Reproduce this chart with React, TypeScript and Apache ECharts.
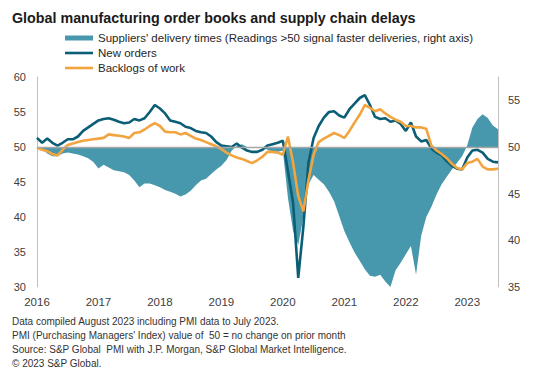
import React, { useEffect, useRef } from 'react';
import * as echarts from 'echarts';

const years = ['2016', '2017', '2018', '2019', '2020', '2021', '2022', '2023'];
const monthCount = 91; // Jan 2016 .. Jul 2023
const categories: string[] = [];
years.forEach((y) => {
  for (let m = 1; m <= 12; m++) {
    if (categories.length < monthCount) categories.push(`${y}-${String(m).padStart(2, '0')}`);
  }
});

const seriesNames = [
  "Suppliers' delivery times (Readings >50 signal faster deliveries, right axis)",
  'New orders',
  'Backlogs of work',
];

const newOrders = [
  51.3, 50.6, 51.2, 50.6, 50.2, 50.6, 51.1, 51.1, 51.5, 52.3, 52.8, 53.3,
  53.8, 54.0, 54.1, 53.9, 53.6, 53.4, 53.5, 54.0, 53.8, 54.1, 55.0, 56.0,
  55.5, 54.8, 53.8, 53.6, 53.4, 52.9, 52.7, 52.3, 52.1, 52.0, 51.5, 50.7,
  50.2, 50.1, 50.0, 50.5, 49.9, 49.5, 49.3, 49.3, 49.6, 50.2, 50.4, 50.6,
  50.9, 46.5, 42.0, 31.3, 38.6, 47.8, 51.3, 53.0, 54.2, 55.0, 55.1, 54.5,
  54.2, 55.4, 56.2, 57.0, 57.4, 56.0, 54.3, 54.0, 54.1, 53.6, 53.8, 53.3,
  52.3, 53.5, 51.5, 50.8, 51.0, 49.8, 49.2, 48.8, 48.0, 47.3, 46.9, 46.8,
  48.5, 49.5, 49.6, 49.2, 48.3, 47.9, 47.8,
];

const backlogs = [
  49.9, 49.6, 49.4, 49.0, 48.8, 49.6, 50.3, 50.5, 50.7, 50.9, 51.0, 51.1,
  51.2, 51.3, 51.8, 51.7, 51.6, 51.5, 51.3, 52.0, 52.1, 52.5, 53.0, 53.4,
  53.0, 52.2, 52.1, 52.1, 51.8, 52.0, 51.6, 51.2, 51.0, 50.7, 50.4, 50.1,
  49.7, 49.2, 48.8, 48.5, 48.3, 48.0, 47.7, 48.1, 48.6, 49.3, 49.3, 49.2,
  48.9, 51.5, 47.7, 43.0, 40.8, 45.3, 48.9, 50.7, 51.2, 51.6, 52.0, 51.7,
  51.3, 52.3, 53.5, 54.6, 56.0, 55.6, 55.1, 55.4, 54.8, 54.3, 53.9, 53.6,
  53.0, 53.0, 52.8, 52.8, 52.6, 50.2, 49.5, 49.0, 48.4, 47.6, 47.0, 46.8,
  47.7, 47.9, 48.3, 47.2, 46.8, 46.8, 46.9,
];

const deliveryTimes = [
  50.0, 49.8, 49.3, 49.0, 49.0, 49.3, 49.4, 49.3, 49.2, 49.0, 48.8, 48.4,
  47.7, 48.1, 47.8, 47.5, 47.4, 47.3, 47.0, 46.4, 45.7, 46.1, 46.1, 45.9,
  45.7, 45.4, 45.2, 45.0, 44.7, 44.9, 45.3, 45.9, 46.4, 46.6, 47.1, 47.6,
  48.0, 48.6, 49.6, 50.1, 50.3, 50.0, 49.9, 50.0, 49.9, 49.7, 49.5, 49.5,
  49.6, 44.5, 41.0, 39.5, 42.5, 46.0, 47.0, 46.5, 46.0, 45.2, 44.2, 42.6,
  41.0, 39.8, 38.7, 37.8, 36.9, 36.2, 36.1, 36.3, 35.6, 35.0, 36.8, 37.6,
  38.5, 39.4, 36.3, 40.5, 42.5, 43.6, 44.9, 46.0, 46.8, 47.6, 48.3, 49.0,
  50.2, 52.1, 53.0, 53.5, 53.1, 52.3, 51.9,
];

const titleText = 'Global manufacturing order books and supply chain delays';
const footnotes = [
  'Data compiled August 2023 including PMI data to July 2023.',
  'PMI (Purchasing Managers\' Index) value of  50 = no change on prior month',
  'Source: S&P Global  PMI with J.P. Morgan, S&P Global Market Intelligence.',
  '\u00A9 2023 S&P Global.',
];

const FONT = '"Liberation Sans", Arial, Helvetica, sans-serif';
const AREA = '#4898AD';
const NAVY = '#0B5E75';
const ORANGE = '#F2A43E';
const AXIS_GRAY = '#BFBFBF';
const LABEL = '#404040';
const LINE_ICON = 'path://M0,0L28,0L28,2.6L0,2.6Z';

export default function App() {
  const ref = useRef<HTMLDivElement>(null);
  useEffect(() => {
    if (!ref.current) return;
    const chart = echarts.init(ref.current, undefined, { renderer: 'svg' });
    chart.setOption({
      animation: false,
      backgroundColor: '#ffffff',
      title: {
        text: titleText,
        left: 12,
        top: 11,
        padding: 0,
        textStyle: { fontFamily: FONT, fontSize: 14.3, fontWeight: 'bold', color: '#1a1a1a' },
      },
      legend: {
        orient: 'vertical',
        left: 65,
        top: 32,
        padding: 0,
        itemWidth: 28,
        itemHeight: 5,
        itemGap: 3,
        symbolKeepAspect: true,
        textStyle: { fontFamily: FONT, fontSize: 11.5, color: '#262626' },
        data: [
          { name: seriesNames[0], icon: 'rect' },
          { name: seriesNames[1], icon: LINE_ICON },
          { name: seriesNames[2], icon: LINE_ICON },
        ],
      },
      grid: { left: 37, right: 40, top: 77, bottom: 94 },
      xAxis: {
        type: 'category',
        data: categories,
        boundaryGap: false,
        axisLine: { show: false },
        axisTick: { show: false },
        splitLine: { show: false },
        axisLabel: {
          interval: (idx: number) => idx % 12 === 0,
          formatter: (v: string) => v.slice(0, 4),
          fontFamily: FONT,
          fontSize: 11.5,
          color: LABEL,
          margin: 9,
        },
      },
      yAxis: [
        {
          type: 'value',
          min: 30,
          max: 60,
          interval: 5,
          axisLine: { show: true, lineStyle: { color: AXIS_GRAY, width: 1 } },
          axisTick: { show: false },
          splitLine: { show: false },
          axisLabel: { fontFamily: FONT, fontSize: 11, color: LABEL, margin: 11 },
        },
        {
          type: 'value',
          min: 35,
          max: 57.5,
          interval: 5,
          position: 'right',
          axisLine: { show: true, lineStyle: { color: AXIS_GRAY, width: 1 } },
          axisTick: { show: false },
          splitLine: { show: false },
          axisLabel: {
            fontFamily: FONT,
            fontSize: 11,
            color: LABEL,
            margin: 10,
            formatter: (v: number) => (v % 5 === 0 ? String(v) : ''),
          },
        },
      ],
      series: [
        {
          name: seriesNames[0],
          type: 'line',
          yAxisIndex: 1,
          data: deliveryTimes,
          symbol: 'none',
          showSymbol: false,
          lineStyle: { width: 0, color: AREA },
          itemStyle: { color: AREA },
          areaStyle: { color: AREA, opacity: 1, origin: 50 },
          markLine: {
            silent: true,
            symbol: 'none',
            label: { show: false },
            lineStyle: { color: '#A6A6A6', width: 1.3, type: 'solid' },
            data: [{ yAxis: 50 }],
          },
          z: 1,
        },
        {
          name: seriesNames[1],
          type: 'line',
          data: newOrders,
          symbol: 'none',
          showSymbol: false,
          lineStyle: { width: 2.6, color: NAVY },
          itemStyle: { color: NAVY },
          z: 3,
        },
        {
          name: seriesNames[2],
          type: 'line',
          data: backlogs,
          symbol: 'none',
          showSymbol: false,
          lineStyle: { width: 2.6, color: ORANGE },
          itemStyle: { color: ORANGE },
          z: 4,
        },
      ],
      graphic: [
        {
          type: 'text',
          left: 12,
          top: 314,
          style: {
            text: footnotes.join('\n'),
            fontFamily: FONT,
            fontSize: 10,
            lineHeight: 14,
            fill: '#333333',
          },
        },
      ],
    });
    return () => chart.dispose();
  }, []);
  return (
    <div
      ref={ref}
      style={{ position: 'fixed', left: 0, top: 0, width: 538, height: 381, background: '#fff' }}
    />
  );
}
